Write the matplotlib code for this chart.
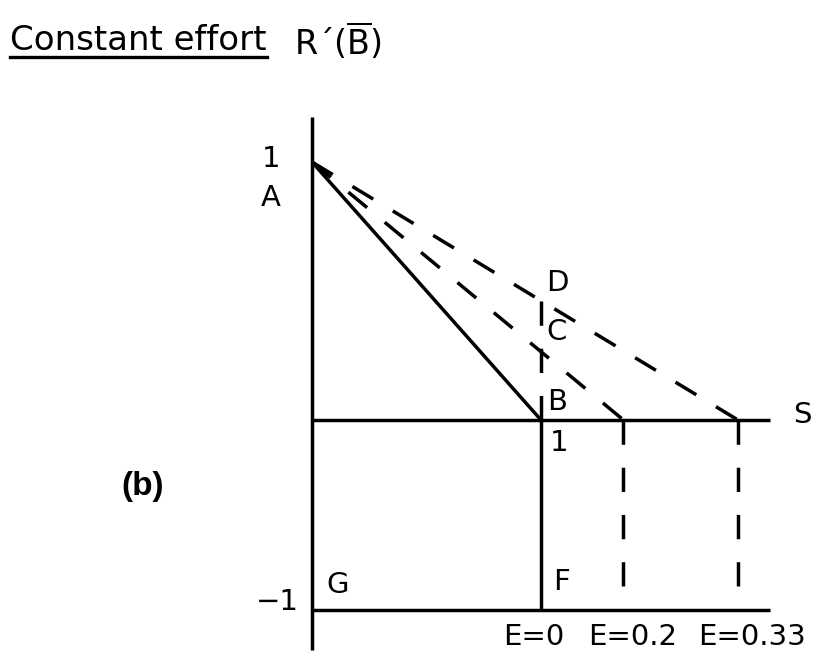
import numpy as np
import matplotlib
matplotlib.use('Agg')
import matplotlib.pyplot as plt
from matplotlib.lines import Line2D

plt.rcParams['font.family'] = ['DejaVu Sans']
plt.rcParams['mathtext.fontset'] = 'dejavusans'

# ── Diagram values (s on x, R'(B) on y) ──────────────────────────────────────
effort_labels = ['E=0', 'E=0.2', 'E=0.33']
s_zero        = [1.0, 1.36, 1.86]      # where each R' line meets the s axis
r_at_s1       = [0.0, 0.27, 0.46]      # B, C, D on the s = 1 vertical
point_names   = ['B', 'C', 'D']
r_top         = 1.0                    # A
r_bottom      = -1.0                   # G-F level
s_axis_end    = 2.0
dash_bottom   = -0.88                  # lower end of the dashed E verticals

# below zero the sketch is drawn compressed
K = 190 / 258
def fwd(y):
    y = np.asarray(y, dtype=float)
    return np.where(y >= 0, y, y * K)
def inv(t):
    t = np.asarray(t, dtype=float)
    return np.where(t >= 0, t, t / K)

fig = plt.figure(figsize=(8.23, 6.68), dpi=100)
ax = fig.add_axes([0, 0, 1, 1])
ax.set_yscale('function', functions=(fwd, inv))
ax.set_xlim(-312 / 229, 511 / 229)
ax.set_ylim(-248 / 258 / K, 420 / 258)
ax.axis('off')

LW = 2.5
DASH = (7, 6.6)
kw = dict(color='black', lw=LW, solid_capstyle='butt')

# axes frame
ax.plot([0, 0], [-1.21, 1.175], **kw)
ax.plot([0, s_axis_end], [0, 0], **kw)
ax.plot([0, s_axis_end], [r_bottom, r_bottom], **kw)
ax.plot([s_zero[0], s_zero[0]], [0, r_bottom], **kw)

# constant effort lines: E=0 solid, others dashed
ax.plot([0, s_zero[0]], [r_top, 0], **kw)
for s0 in s_zero[1:]:
    ax.plot([0, s0], [r_top, 0], dashes=DASH, **kw)
    ax.plot([s0, s0], [0, dash_bottom], dashes=DASH, **kw)
ax.plot([s_zero[0], s_zero[0]], [r_at_s1[2], 0], dashes=DASH, **kw)

# labels
fs = 21
txt = dict(fontsize=fs, ha='center', va='center', color='black')
ax.text(-0.18, 1.01, '1', **txt)
ax.text(-0.18, 0.86, 'A', **txt)
ax.text(-0.15, -0.96, '\u22121', **txt)
ax.text(0.11, -0.87, 'G', **txt)
ax.text(1.09, -0.85, 'F', **txt)
for name, r in zip(point_names, r_at_s1):
    ax.text(1.07, r + 0.07, name, **txt)
ax.text(1.08, -0.12, '1', **txt)
ax.text(2.14, 0.02, 'S', **txt)
for lab, s0 in zip(effort_labels, s_zero):
    dx = {'E=0': -0.03, 'E=0.2': 0.04, 'E=0.33': 0.06}[lab]
    ax.text(s0 + dx, -1.14, lab, **txt)
ax.text(-0.74, -0.35, '(b)', fontsize=24, fontweight='bold',
        family='Liberation Sans', ha='center', va='center')

# heading
fig.text(10 / 823, 1 - 41 / 668, 'Constant effort', fontsize=24.5,
         ha='left', va='center')
fig.add_artist(Line2D([10 / 823, 267 / 823], [1 - 57 / 668, 1 - 57 / 668],
                      color='black', lw=2.4))
fig.text(294 / 823, 1 - 41 / 668, 'R\u00b4($\\overline{\\mathrm{B}}$)',
         fontsize=24, ha='left', va='center')

fig.savefig('out.png', dpi=100)
